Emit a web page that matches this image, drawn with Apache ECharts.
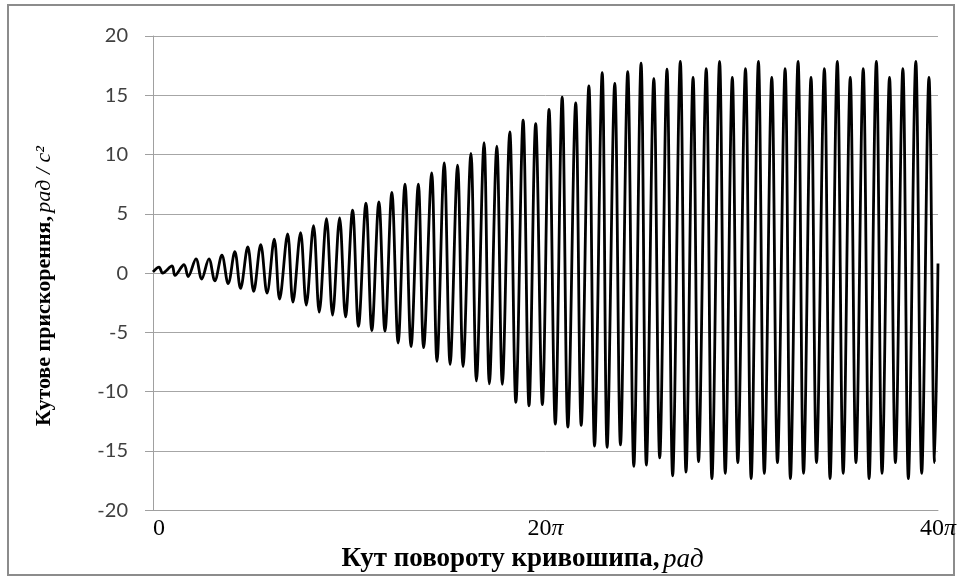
<!DOCTYPE html>
<html>
<head>
<meta charset="utf-8">
<script src="https://cdn.jsdelivr.net/npm/echarts@6/dist/echarts.min.js"></script>
<style>
    html, body { margin: 0; padding: 0; background: #fff; }
    #chart { width: 959px; height: 578px; }
</style>
</head>
<body>
<div id="chart"></div>
<script>
// angles are in units of pi, values in rad/s^2
const peakAt = [0.31, 0.97, 1.58, 2.19, 2.85, 3.51, 4.17, 4.83, 5.49, 6.18,
    6.86, 7.52, 8.18, 8.84, 9.51, 10.17, 10.85, 11.51, 12.17, 12.84,
    13.52, 14.20, 14.84, 15.52, 16.20, 16.87, 17.52, 18.18, 18.86, 19.50,
    20.18, 20.85, 21.54, 22.21, 22.89, 23.53, 24.19, 24.87, 25.52, 26.19,
    26.87, 27.52, 28.19, 28.87, 29.52, 30.19, 30.85, 31.53, 32.21, 32.87,
    33.53, 34.21, 34.87, 35.53, 36.19, 36.86, 37.53, 38.21, 38.87, 39.54]
const peakVal = [0.5, 0.6, 0.7, 1.2, 1.2, 1.5, 1.8, 2.2, 2.4, 2.85,
    3.3, 3.4, 4.0, 4.6, 4.65, 5.3, 5.9, 6.0, 6.8, 7.5,
    7.5, 8.45, 9.3, 9.1, 10.1, 11.0, 10.7, 11.9, 12.9, 12.6,
    13.8, 14.85, 14.35, 15.8, 16.9, 16.0, 17.0, 17.7, 16.4, 17.2,
    17.85, 16.5, 17.25, 17.85, 16.5, 17.25, 17.85, 16.5, 17.25, 17.85,
    16.5, 17.25, 17.85, 16.5, 17.25, 17.85, 16.5, 17.25, 17.85, 16.5]
const troughAt = [0.49, 1.12, 1.79, 2.48, 3.15, 3.83, 4.46, 5.13, 5.81, 6.45,
    7.13, 7.81, 8.47, 9.15, 9.81, 10.47, 11.15, 11.82, 12.49, 13.15,
    13.79, 14.47, 15.14, 15.80, 16.48, 17.14, 17.80, 18.49, 19.16, 19.84,
    20.50, 21.14, 21.82, 22.50, 23.14, 23.82, 24.50, 25.14, 25.82, 26.48,
    27.16, 27.80, 28.48, 29.16, 29.80, 30.48, 31.15, 31.82, 32.48, 33.15,
    33.81, 34.50, 35.17, 35.82, 36.49, 37.15, 37.83, 38.49, 39.17, 39.83]
const troughVal = [0.0, -0.2, -0.3, -0.5, -0.65, -0.9, -1.3, -1.55, -1.7, -2.2,
    -2.45, -2.7, -3.3, -3.55, -3.7, -4.5, -4.85, -4.9, -5.9, -6.2,
    -6.3, -7.45, -7.7, -7.9, -9.1, -9.35, -9.4, -10.9, -11.2, -11.1,
    -12.75, -13.0, -12.85, -14.6, -14.7, -14.5, -16.3, -16.2, -15.6, -17.1,
    -16.8, -15.9, -17.35, -16.9, -16.0, -17.35, -16.9, -16.0, -17.35, -16.9,
    -16.0, -17.35, -16.9, -16.0, -17.35, -16.9, -16.0, -17.35, -16.9, -16.0]
const startPoint = [0, 0.1]
const endPoint = [40, 0.8]

const xTicks = [0, 20, 40]
const yTicks = [-20, -15, -10, -5, 0, 5, 10, 15, 20]

function buildCurve() {
    let pts = [startPoint]
    for (let i = 0; i < peakAt.length; i++) {
        pts.push([peakAt[i], peakVal[i]])
        pts.push([troughAt[i], troughVal[i]])
    }
    pts.push(endPoint)
    return pts
}

function DrawAccelChart(elementId) {
    let myChart = echarts.init(document.getElementById(elementId), null, { renderer: 'canvas' })

    let serif = '"Liberation Serif", "DejaVu Serif", serif'
    let option = {
        animation: false,
        backgroundColor: '#fff',
        grid: {
            left: 153,
            right: 19,
            top: 36,
            bottom: 65
        },
        graphic: [{
            type: 'rect',
            shape: { x: 8, y: 5, width: 946, height: 570 },
            style: { fill: 'none', stroke: '#8c8c8c', lineWidth: 2 },
            silent: true
        }],
        xAxis: {
            type: 'value',
            min: xTicks[0],
            max: xTicks[xTicks.length - 1],
            interval: xTicks[1] - xTicks[0],
            axisLine: { onZero: false, lineStyle: { color: '#a0a0a0', width: 1 } },
            axisTick: { show: false },
            splitLine: { show: false },
            axisLabel: {
                margin: 7,
                alignMinLabel: 'left',
                formatter: function(v) {
                    if (v === 0) return '{n|0}'
                    return '{n|' + v + '}{p|π}'
                },
                rich: {
                    n: { fontFamily: serif, fontSize: 24, color: '#000' },
                    p: { fontFamily: serif, fontSize: 24, fontStyle: 'italic', color: '#000' }
                }
            },
            name: '{b|Кут повороту кривошипа,} {i|рад}',
            nameLocation: 'middle',
            nameGap: 30,
            nameTextStyle: {
                padding: [0, 46, 0, 0],
                rich: {
                    b: { fontFamily: serif, fontSize: 27, fontWeight: 'bold', color: '#000' },
                    i: { fontFamily: serif, fontSize: 27, fontStyle: 'italic', color: '#000' }
                }
            }
        },
        yAxis: {
            type: 'value',
            min: yTicks[0],
            max: yTicks[yTicks.length - 1],
            interval: yTicks[1] - yTicks[0],
            axisLine: { show: true, lineStyle: { color: '#a0a0a0', width: 1 } },
            axisTick: { show: true, length: 8, lineStyle: { color: '#a0a0a0' } },
            splitLine: { lineStyle: { color: '#a6a6a6', width: 1 } },
            axisLabel: {
                margin: 25,
                fontFamily: 'Lato, "Open Sans", sans-serif',
                fontSize: 20,
                color: '#404040'
            },
            name: '{b|Кутове прискорення,} {i|рад / с²}',
            nameLocation: 'middle',
            nameRotate: 90,
            nameGap: 98,
            nameTextStyle: {
                padding: [0, 26, 0, 0],
                rich: {
                    b: { fontFamily: serif, fontSize: 22, fontWeight: 'bold', color: '#000' },
                    i: { fontFamily: serif, fontSize: 22, fontStyle: 'italic', color: '#000' }
                }
            }
        },
        series: [{
            type: 'line',
            data: buildCurve(),
            smooth: 0.35,
            showSymbol: false,
            lineStyle: { color: '#000', width: 2.8 }
        }]
    }
    myChart.setOption(option)
}

DrawAccelChart('chart')
</script>
</body>
</html>
